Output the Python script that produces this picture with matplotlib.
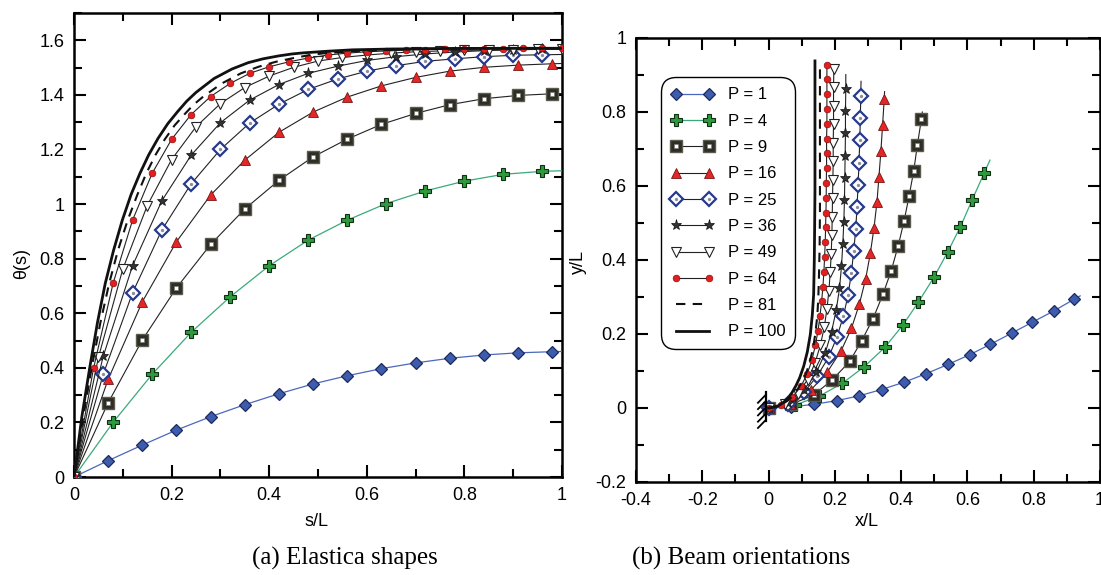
import matplotlib
matplotlib.use("Agg")
import matplotlib.pyplot as plt
from matplotlib.ticker import MultipleLocator, FuncFormatter
from matplotlib.lines import Line2D
from matplotlib.legend_handler import HandlerTuple

plt.rcParams['font.family'] = ['Liberation Sans', 'DejaVu Sans']
plt.rcParams['axes.unicode_minus'] = False

# ---------------------------------------------------------------------------
# (a) rotation angle theta(s) along the normalised arc length s/L
# ---------------------------------------------------------------------------
S7 = [0.0, 0.07, 0.14, 0.21, 0.28, 0.35, 0.42, 0.49, 0.56, 0.63, 0.70, 0.77,
      0.84, 0.91, 0.98, 1.0]
S8 = [0.0, 0.08, 0.16, 0.24, 0.32, 0.40, 0.48, 0.56, 0.64, 0.72, 0.80, 0.88,
      0.96, 1.0]
S6 = [0.0, 0.06, 0.12, 0.18, 0.24, 0.30, 0.36, 0.42, 0.48, 0.54, 0.60, 0.66,
      0.72, 0.78, 0.84, 0.90, 0.96, 1.0]
S5 = [0.0, 0.05, 0.10, 0.15, 0.20, 0.25, 0.30, 0.35, 0.40, 0.45, 0.50, 0.55,
      0.60, 0.65, 0.70, 0.75, 0.80, 0.85, 0.90, 0.95, 1.0]
S4 = [0.0, 0.04, 0.08, 0.12, 0.16, 0.20, 0.24, 0.28, 0.32, 0.36, 0.40, 0.44,
      0.48, 0.52, 0.56, 0.60, 0.64, 0.68, 0.72, 0.76, 0.80, 0.84, 0.88, 0.92,
      0.96, 1.0]
S81 = [0.0, 0.018, 0.036, 0.054, 0.072, 0.09, 0.11, 0.13, 0.148, 0.167,
       0.186, 0.206, 0.226, 0.245, 0.265, 0.303, 0.342, 0.378, 0.413, 0.45,
       0.483, 0.515, 0.58, 0.66, 0.75, 0.85, 1.0]
S100 = [0.0, 0.016, 0.032, 0.048, 0.064, 0.081, 0.099, 0.117, 0.135, 0.153,
        0.172, 0.192, 0.212, 0.231, 0.250, 0.287, 0.324, 0.357, 0.387, 0.42,
        0.447, 0.47, 0.52, 0.57, 0.65, 0.75, 0.85, 1.0]

THETA_P1 = [0.0, 0.060, 0.117, 0.172, 0.221, 0.265, 0.305, 0.341, 0.371,
            0.397, 0.418, 0.435, 0.447, 0.455, 0.459, 0.460]
THETA_P4 = [0.0, 0.200, 0.376, 0.530, 0.660, 0.774, 0.868, 0.941, 1.002,
            1.048, 1.084, 1.109, 1.120, 1.122]
THETA_P9 = [0.0, 0.272, 0.502, 0.693, 0.852, 0.982, 1.087, 1.173, 1.238,
            1.292, 1.332, 1.364, 1.386, 1.398, 1.404, 1.405]
THETA_P16 = [0.0, 0.358, 0.642, 0.862, 1.033, 1.161, 1.263, 1.337, 1.392,
             1.433, 1.464, 1.487, 1.501, 1.509, 1.514, 1.515]
THETA_P25 = [0.0, 0.377, 0.675, 0.905, 1.074, 1.200, 1.297, 1.366, 1.420,
             1.458, 1.487, 1.507, 1.523, 1.532, 1.540, 1.545, 1.547, 1.548]
THETA_P36 = [0.0, 0.443, 0.774, 1.012, 1.179, 1.298, 1.381, 1.438, 1.479,
             1.505, 1.526, 1.540, 1.550, 1.557, 1.562, 1.565, 1.567, 1.568]
THETA_P49 = [0.0, 0.438, 0.762, 0.994, 1.163, 1.283, 1.368, 1.427, 1.469,
             1.501, 1.524, 1.537, 1.546, 1.553, 1.558, 1.561, 1.563, 1.565,
             1.566, 1.567, 1.568]
THETA_P64 = [0.0, 0.398, 0.709, 0.941, 1.112, 1.237, 1.328, 1.394, 1.442,
             1.479, 1.503, 1.521, 1.535, 1.546, 1.553, 1.558, 1.561, 1.564,
             1.566, 1.567, 1.568, 1.569, 1.569, 1.570, 1.570, 1.570]
THETA_P81 = [0.0, 0.21, 0.398, 0.565, 0.709, 0.83, 0.941, 1.035, 1.112, 1.18,
             1.237, 1.288, 1.328, 1.364, 1.394, 1.442, 1.479, 1.503, 1.521,
             1.535, 1.546, 1.553, 1.561, 1.566, 1.569, 1.5705, 1.5708]
THETA_P100 = [0.0, 0.22, 0.398, 0.565, 0.709, 0.83, 0.941, 1.035, 1.112,
              1.18, 1.240, 1.294, 1.338, 1.377, 1.409, 1.460, 1.495, 1.518,
              1.532, 1.543, 1.550, 1.554, 1.560, 1.565, 1.568, 1.570, 1.5705,
              1.5708]

# ---------------------------------------------------------------------------
# (b) deflected beam centre lines (x/L, y/L)
# ---------------------------------------------------------------------------
X_P1 = [0.0, 0.068, 0.138, 0.206, 0.274, 0.341, 0.410, 0.476, 0.542, 0.607,
        0.669, 0.733, 0.796, 0.860, 0.922, 0.940]
Y_P1 = [0.0, 0.003, 0.010, 0.020, 0.033, 0.050, 0.070, 0.093, 0.118, 0.144,
        0.172, 0.202, 0.232, 0.262, 0.294, 0.303]
X_P4 = [0.0, 0.080, 0.153, 0.223, 0.289, 0.351, 0.405, 0.452, 0.500, 0.540,
        0.579, 0.614, 0.650, 0.668]
Y_P4 = [0.0, 0.008, 0.032, 0.067, 0.112, 0.164, 0.224, 0.286, 0.355, 0.421,
        0.490, 0.562, 0.634, 0.670]
X_P9 = [0.0, 0.068, 0.136, 0.192, 0.245, 0.281, 0.315, 0.345, 0.370, 0.391,
        0.409, 0.424, 0.438, 0.449, 0.461, 0.464]
Y_P9 = [0.0, 0.010, 0.035, 0.076, 0.126, 0.182, 0.241, 0.307, 0.371, 0.438,
        0.506, 0.573, 0.641, 0.711, 0.780, 0.800]
X_P16 = [0.0, 0.066, 0.127, 0.177, 0.219, 0.250, 0.274, 0.293, 0.307, 0.318,
         0.327, 0.333, 0.339, 0.344, 0.349, 0.350]
Y_P16 = [0.0, 0.012, 0.048, 0.097, 0.155, 0.215, 0.281, 0.349, 0.418, 0.486,
         0.556, 0.625, 0.695, 0.765, 0.835, 0.855]
X_P25 = [0.0, 0.058, 0.107, 0.147, 0.181, 0.206, 0.226, 0.240, 0.250, 0.257,
         0.263, 0.267, 0.270, 0.273, 0.275, 0.277, 0.278, 0.279]
Y_P25 = [0.0, 0.011, 0.042, 0.087, 0.137, 0.191, 0.249, 0.306, 0.366, 0.425,
         0.484, 0.544, 0.604, 0.663, 0.723, 0.783, 0.843, 0.883]
X_P36 = [0.0, 0.058, 0.107, 0.144, 0.171, 0.190, 0.204, 0.214, 0.220, 0.224,
         0.227, 0.229, 0.230, 0.231, 0.232, 0.232, 0.233, 0.233]
Y_P36 = [0.0, 0.014, 0.049, 0.096, 0.149, 0.206, 0.264, 0.323, 0.383, 0.443,
         0.503, 0.562, 0.622, 0.682, 0.742, 0.802, 0.861, 0.901]
X_P49 = [0.0, 0.049, 0.088, 0.118, 0.140, 0.156, 0.168, 0.176, 0.182, 0.186,
         0.189, 0.191, 0.192, 0.193, 0.194, 0.195, 0.195, 0.196, 0.196, 0.196,
         0.197]
Y_P49 = [0.0, 0.011, 0.039, 0.077, 0.121, 0.169, 0.218, 0.267, 0.317, 0.367,
         0.417, 0.467, 0.517, 0.567, 0.617, 0.667, 0.717, 0.767, 0.817, 0.867,
         0.917]
X_P64 = [0.0, 0.039, 0.072, 0.098, 0.117, 0.131, 0.141, 0.149, 0.155, 0.160,
         0.164, 0.167, 0.169, 0.171, 0.172, 0.173, 0.174, 0.174, 0.175, 0.175,
         0.175, 0.176, 0.176, 0.176, 0.176, 0.176]
Y_P64 = [0.0, 0.008, 0.029, 0.059, 0.093, 0.130, 0.169, 0.208, 0.248, 0.288,
         0.328, 0.368, 0.408, 0.448, 0.488, 0.528, 0.568, 0.608, 0.648, 0.688,
         0.728, 0.768, 0.808, 0.848, 0.888, 0.928]
X_P81 = [0.0, 0.020, 0.039, 0.056, 0.068, 0.078, 0.090, 0.099, 0.107, 0.115,
         0.122, 0.129, 0.136, 0.141, 0.147, 0.150, 0.152, 0.154, 0.155, 0.155,
         0.155, 0.155, 0.155]
Y_P81 = [0.0, 0.002, 0.009, 0.019, 0.028, 0.039, 0.054, 0.067, 0.080, 0.098,
         0.118, 0.141, 0.171, 0.201, 0.248, 0.296, 0.354, 0.434, 0.534, 0.634,
         0.734, 0.834, 0.934]
X_P100 = [0.0, 0.015, 0.029, 0.042, 0.057, 0.071, 0.083, 0.094, 0.106, 0.117,
          0.126, 0.132, 0.136, 0.138, 0.139, 0.140, 0.140, 0.140, 0.140]
Y_P100 = [0.0, 0.002, 0.006, 0.013, 0.025, 0.042, 0.061, 0.082, 0.113, 0.152,
          0.199, 0.252, 0.307, 0.401, 0.488, 0.588, 0.688, 0.788, 0.938]

LOADS = ['P = 1', 'P = 4', 'P = 9', 'P = 16', 'P = 25', 'P = 36', 'P = 49',
         'P = 64', 'P = 81', 'P = 100']

# number of marked stations at the start of each series (the rest is line only)
N_MARKED = [15, 13, 15, 15, 17, 17, 21, 26, 0, 0]

# ---------------------------------------------------------------------------
# styling of every load case
# ---------------------------------------------------------------------------
STYLES = [
    dict(color='#4a68bd', lw=0.9, marker='D', ms=6.5, mfc='#3d5cae', mec='#1c2a5c', mew=0.9),
    dict(color='#3aaa7c', lw=0.9, marker='P', ms=8.5, mfc='#2d9a3c', mec='#0f2f14', mew=0.8),
    dict(color='#222222', lw=0.8, marker='s', ms=8.5, mfc='#2e2e24', mec='#5a5a4e', mew=1.0),
    dict(color='#222222', lw=0.8, marker='^', ms=7.5, mfc='#e32626', mec='#7a1515', mew=0.6),
    dict(color='#222222', lw=0.8, marker='D', ms=7.0, mfc='white', mec='#263a8c', mew=1.6),
    dict(color='#222222', lw=0.8, marker='*', ms=8.0, mfc='#333333', mec='#111111', mew=0.5),
    dict(color='#222222', lw=0.8, marker='v', ms=6.5, mfc='white', mec='#222222', mew=0.8),
    dict(color='#222222', lw=0.8, marker='o', ms=4.8, mfc='#e41e1e', mec='#8a1010', mew=0.5),
    dict(color='#111111', lw=1.5, ls=(0, (4.5, 3.5))),
    dict(color='#111111', lw=2.0, ls='-'),
]
# small inner glyphs drawn on top of some markers
INNER = {
    2: dict(marker='s', ms=2.8, mfc='white', mec='#777777', mew=0.4),
    4: dict(marker='o', ms=2.4, mfc='#8c8c9c', mec='#8c8c9c', mew=0.0),
}

A_SERIES = [(S7, THETA_P1), (S8, THETA_P4), (S7, THETA_P9), (S7, THETA_P16),
            (S6, THETA_P25), (S6, THETA_P36), (S5, THETA_P49), (S4, THETA_P64),
            (S81, THETA_P81), (S100, THETA_P100)]
B_SERIES = [(X_P1, Y_P1), (X_P4, Y_P4), (X_P9, Y_P9), (X_P16, Y_P16),
            (X_P25, Y_P25), (X_P36, Y_P36), (X_P49, Y_P49), (X_P64, Y_P64),
            (X_P81, Y_P81), (X_P100, Y_P100)]

fig = plt.figure(figsize=(11.01, 5.75), dpi=100)
ax_a = fig.add_axes([74 / 1101, 1 - 477 / 575, 488 / 1101, 464 / 575])
ax_b = fig.add_axes([636 / 1101, 1 - 482 / 575, 464 / 1101, 444 / 575])


def draw_series(ax, series):
    handles = []
    for i, ((xs, ys), st) in enumerate(zip(series, STYLES)):
        n = N_MARKED[i]
        st = dict(st)
        if n == 0:
            st.pop('marker', None)
            ax.plot(xs, ys, zorder=3 + i * 0.1, **st)
        else:
            ax.plot(xs, ys, markevery=list(range(n)), zorder=3 + i * 0.1, **st)
            if i in INNER:
                ax.plot(xs[:n], ys[:n], ls='none', zorder=3.05 + i * 0.1, **INNER[i])
        proxy = Line2D([], [], **st)
        if i in INNER:
            inner = Line2D([], [], ls='none', **INNER[i])
            handles.append((proxy, inner))
        else:
            handles.append(proxy)
    return handles


draw_series(ax_a, A_SERIES)
handles = draw_series(ax_b, B_SERIES)

fmt = FuncFormatter(lambda v, p: '%g' % round(v, 2))

# panel (a) axes
ax_a.set_xlim(0, 1)
ax_a.set_ylim(0, 1.7)
ax_a.xaxis.set_major_locator(MultipleLocator(0.2))
ax_a.xaxis.set_minor_locator(MultipleLocator(0.1))
ax_a.yaxis.set_major_locator(MultipleLocator(0.2))
ax_a.yaxis.set_minor_locator(MultipleLocator(0.1))
ax_a.set_yticks([0, 0.2, 0.4, 0.6, 0.8, 1.0, 1.2, 1.4, 1.6])
ax_a.set_xlabel('s/L', fontsize=13)
ax_a.set_ylabel('θ(s)', fontsize=13)
ax_a.xaxis.set_label_coords(0.496, -0.078)
ax_a.yaxis.set_label_coords(-0.089, 0.46)

# panel (b) axes
ax_b.set_xlim(-0.4, 1.0)
ax_b.set_ylim(-0.2, 1.0)
ax_b.xaxis.set_major_locator(MultipleLocator(0.2))
ax_b.xaxis.set_minor_locator(MultipleLocator(0.1))
ax_b.yaxis.set_major_locator(MultipleLocator(0.2))
ax_b.yaxis.set_minor_locator(MultipleLocator(0.1))
ax_b.set_xlabel('x/L', fontsize=13)
ax_b.set_ylabel('y/L', fontsize=13)
ax_b.xaxis.set_label_coords(0.498, -0.070)
ax_b.yaxis.set_label_coords(-0.106, 0.495)

for ax in (ax_a, ax_b):
    ax.xaxis.set_major_formatter(fmt)
    ax.yaxis.set_major_formatter(fmt)
    ax.tick_params(which='both', direction='in', top=True, right=True,
                   width=1.5, labelsize=13, pad=7)
    ax.tick_params(which='major', length=8.5)
    ax.tick_params(which='minor', length=5.5)
    for sp in ax.spines.values():
        sp.set_linewidth(1.8)

# clamped support at the root of the beam
ax_b.plot([-0.008, -0.008], [-0.035, 0.042], color='black', lw=1.6, zorder=6)
for yh in [0.036, 0.019, 0.002, -0.015, -0.032]:
    ax_b.plot([-0.008, -0.032], [yh, yh - 0.022], color='black', lw=1.3, zorder=6)

leg = ax_b.legend(handles, LOADS, loc='upper left',
                  bbox_to_anchor=(0.036, 0.930), fontsize=12, numpoints=2,
                  handlelength=2.6, handletextpad=0.8, labelspacing=0.68,
                  borderpad=0.6, fancybox=True, framealpha=1,
                  edgecolor='black',
                  handler_map={tuple: HandlerTuple(ndivide=1)})
leg.get_frame().set_linewidth(1.0)
leg.get_frame().set_boxstyle('round', pad=0, rounding_size=0.9)

fig.text(345 / 1101, 1 - 558 / 575, '(a) Elastica shapes', ha='center',
         va='center', fontsize=18, family='Liberation Serif')
fig.text(741 / 1101, 1 - 558 / 575, '(b) Beam orientations', ha='center',
         va='center', fontsize=18, family='Liberation Serif')

fig.savefig('out.png', dpi=100)
